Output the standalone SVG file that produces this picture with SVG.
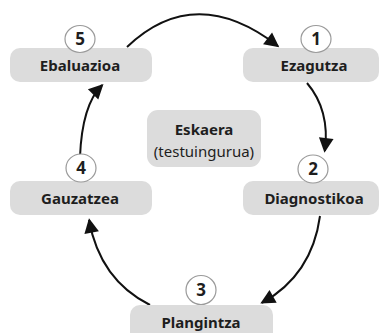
<svg xmlns="http://www.w3.org/2000/svg" width="379" height="333" viewBox="0 0 379 333">
<defs>
<style>
.box{fill:#dcdcdc;}
.num{fill:#fff;stroke:#9a9a9a;stroke-width:1.2;}
.lbl{font-family:"Noto Sans","DejaVu Sans",sans-serif;font-weight:bold;font-size:15px;fill:#1e1e1e;text-anchor:middle;}
.n{font-family:"Noto Sans","DejaVu Sans",sans-serif;font-weight:bold;font-size:17px;fill:#1e1e1e;text-anchor:middle;}
.ctr{font-family:"Noto Sans","DejaVu Sans",sans-serif;font-size:15px;fill:#1e1e1e;text-anchor:middle;}
.c{fill:none;stroke:#111;stroke-width:2;marker-end:url(#ah);}
</style>
<marker id="ah" viewBox="0 0 10 10" refX="9" refY="5" markerWidth="7" markerHeight="7" markerUnits="userSpaceOnUse" orient="auto" overflow="visible">
<path d="M0,0 L10,5 L0,10 z" fill="#111" transform="scale(2.1) translate(-4.5,-2.4)"/>
</marker>
</defs>
<rect width="379" height="333" fill="#fff"/>
<g id="connectors">
<path class="c" d="M127,47 Q195,-18 278,46"/>
<path class="c" d="M307,83 Q330,110 325,151"/>
<path class="c" d="M320,216 Q312,275 262,303"/>
<path class="c" d="M150,305 Q100,280 89,220"/>
<path class="c" d="M80,157 Q82,105 102,85"/>
</g>
<g id="center">
<rect class="box" x="147" y="110" width="114" height="57" rx="11"/>
<text class="ctr" x="204" y="135" font-weight="bold">Eskaera</text>
<text class="ctr" x="204" y="157">(testuingurua)</text>
</g>
<g id="n1">
<rect class="box" x="243" y="48" width="136" height="34" rx="10"/>
<text class="lbl" x="314" y="71">Ezagutza</text>
<ellipse class="num" cx="316" cy="39" rx="15" ry="13.5"/>
<text class="n" x="316" y="45">1</text>
</g>
<g id="n2">
<rect class="box" x="243" y="181" width="136" height="34" rx="10"/>
<text class="lbl" x="314" y="204">Diagnostikoa</text>
<ellipse class="num" cx="313" cy="169" rx="15" ry="14"/>
<text class="n" x="313" y="175">2</text>
</g>
<g id="n3">
<rect class="box" x="130" y="305" width="143" height="40" rx="10"/>
<text class="lbl" x="201" y="328">Plangintza</text>
<ellipse class="num" cx="201" cy="290" rx="15" ry="14.5"/>
<text class="n" x="201" y="296">3</text>
</g>
<g id="n4">
<rect class="box" x="10" y="181" width="142" height="34" rx="10"/>
<text class="lbl" x="80" y="204">Gauzatzea</text>
<ellipse class="num" cx="81" cy="168" rx="15" ry="14"/>
<text class="n" x="81" y="174">4</text>
</g>
<g id="n5">
<rect class="box" x="10" y="48" width="142" height="34" rx="10"/>
<text class="lbl" x="80" y="71">Ebaluazioa</text>
<ellipse class="num" cx="80" cy="39" rx="15" ry="13.5"/>
<text class="n" x="80" y="45">5</text>
</g>
</svg>
